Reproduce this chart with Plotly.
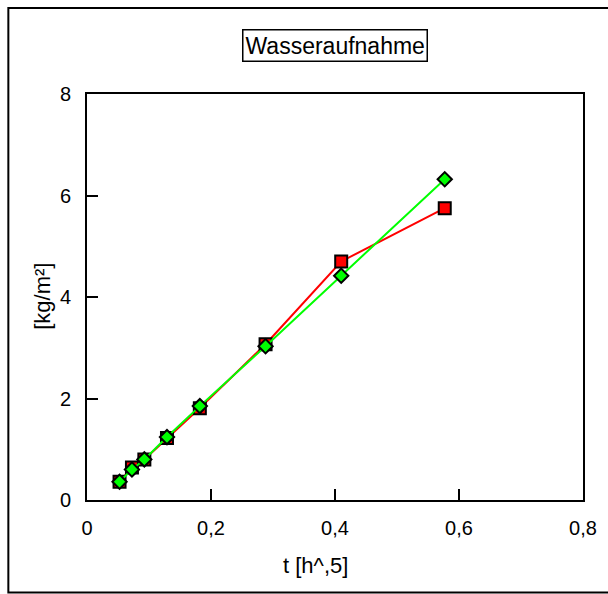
import plotly.graph_objects as go

# square root of time, t [h^0.5]
t_sqrt = [0.0525, 0.0725, 0.0925, 0.129, 0.182, 0.288, 0.410, 0.577]
# water uptake [kg/m²]
uptake_red = [0.36, 0.64, 0.80, 1.22, 1.81, 3.07, 4.70, 5.75]
uptake_green = [0.36, 0.60, 0.80, 1.24, 1.85, 3.03, 4.42, 6.32]

x_ticks = [0, 0.2, 0.4, 0.6, 0.8]
x_ticktext = ["0", "0,2", "0,4", "0,6", "0,8"]
y_ticks = [0, 2, 4, 6, 8]
y_ticktext = ["0", "2", "4", "6", "8"]

FONT = "Arial, Liberation Sans, sans-serif"
W, H = 608, 594
L, R, T, B = 86.7, 25, 94, 94
pw, ph = W - L - R, H - T - B


def px_to_paper_x(px):
    return (px - L) / pw


def px_to_paper_y(py):
    return (H - B - py) / ph


fig = go.Figure()
fig.add_trace(go.Scatter(
    x=t_sqrt, y=uptake_red, mode="lines+markers",
    line=dict(color="#ff0000", width=2),
    marker=dict(symbol="square", size=12, color="#ff0000",
                line=dict(color="black", width=2)),
    showlegend=False,
))
fig.add_trace(go.Scatter(
    x=t_sqrt, y=uptake_green, mode="lines+markers",
    line=dict(color="#00ff00", width=2),
    marker=dict(symbol="diamond", size=11, color="#00ff00",
                line=dict(color="black", width=2)),
    showlegend=False,
))

axis_common = dict(
    showgrid=False, zeroline=False, showline=True, mirror=True,
    linecolor="black", linewidth=2,
    ticks="inside", ticklen=11, tickwidth=2, tickcolor="black",
    tickfont=dict(family=FONT, size=20, color="black"),
)
fig.update_xaxes(range=[0, 0.8], tickvals=x_ticks, ticktext=x_ticktext,
                 ticklabelstandoff=9, **axis_common)
fig.update_yaxes(range=[0, 8], tickvals=y_ticks, ticktext=y_ticktext,
                 ticklabelstandoff=10, **axis_common)

# outer frame around the whole graphic
fig.add_shape(type="rect", xref="paper", yref="paper",
              x0=px_to_paper_x(8), x1=px_to_paper_x(612),
              y0=px_to_paper_y(592.5), y1=px_to_paper_y(8),
              line=dict(color="black", width=2), layer="below")

annotations = [
    dict(text="Wasseraufnahme", x=px_to_paper_x(335.3), y=px_to_paper_y(45),
         xanchor="center", yanchor="middle",
         font=dict(family=FONT, size=23, color="black"),
         bordercolor="black", borderwidth=1.5, borderpad=2),
    dict(text="t [h^,5]", x=px_to_paper_x(315.5), y=px_to_paper_y(565),
         xanchor="center", yanchor="middle",
         font=dict(family=FONT, size=22, color="black")),
    dict(text="[kg/m²]", x=px_to_paper_x(41.5), y=px_to_paper_y(296),
         xanchor="center", yanchor="middle", textangle=-90,
         font=dict(family=FONT, size=22, color="black")),
]
for a in annotations:
    a.update(xref="paper", yref="paper", showarrow=False)
fig.update_layout(
    annotations=annotations,
    width=W, height=H,
    margin=dict(l=L, r=R, t=T, b=B, pad=0),
    paper_bgcolor="white", plot_bgcolor="white",
    font=dict(family=FONT, color="black"),
)

fig.write_html("out.html")
